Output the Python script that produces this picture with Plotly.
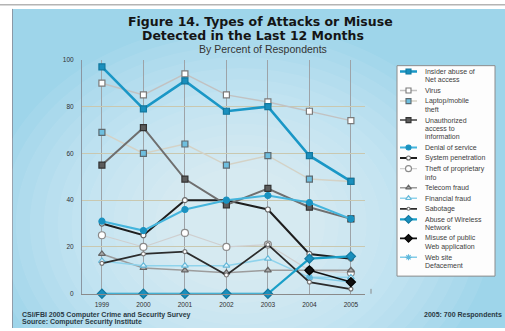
import plotly.graph_objects as go

# ---------------- data ----------------
years = [1999, 2000, 2001, 2002, 2003, 2004, 2005]
insider_abuse = [97, 79, 91, 78, 80, 59, 48]
virus = [90, 85, 94, 85, 82, 78, 74]
laptop_theft = [69, 60, 64, 55, 59, 49, 48]
unauthorized_access = [55, 71, 49, 38, 45, 37, 32]
denial_of_service = [31, 27, 36, 40, 42, 39, 32]
system_penetration = [30, 25, 40, 40, 36, 17, 15]
theft_proprietary = [25, 20, 26, 20, 21, 10, 9]
telecom_fraud = [17, 11, 10, 9, 10, 10, 10]
financial_fraud = [14, 12, 12, 12, 15, 7, 7]
sabotage = [13, 17, 18, 8, 21, 5, 2]
wireless_abuse = [0, 0, 0, 0, 0, 15, 16]
web_app_misuse = [None, None, None, None, None, 10, 5]
web_defacement = [None, None, None, None, None, 7, 5]
y_ticks = [0, 20, 40, 60, 80, 100]
x_ticks = years

W, H = 505, 331
def px(x):
    return x / W
def py(y):
    return 1 - y / H

# series: legend lines, values, style
series = [
    dict(lines=["Insider abuse of", "Net access"], v=insider_abuse, lc="#1a97c6", lw=2.6,
         sym="square", mf="#1a8fbd", ml="#12789f", ms=6, z=13),
    dict(lines=["Virus"], v=virus, lc="#c2c2c2", lw=1.5,
         sym="square", mf="#ffffff", ml="#7a7a7a", ms=6, z=2),
    dict(lines=["Laptop/mobile", "theft"], v=laptop_theft, lc="#d4d2c6", lw=1.5,
         sym="square", mf="#6ebfdf", ml="#5d6a70", ms=6, z=3),
    dict(lines=["Unauthorized", "access to", "information"], v=unauthorized_access, lc="#6f6f6f", lw=2.0,
         sym="square", mf="#5c5c5c", ml="#333333", ms=6, z=10),
    dict(lines=["Denial of service"], v=denial_of_service, lc="#44b5dd", lw=2.0,
         sym="circle", mf="#1a92c0", ml="#1a92c0", ms=6, z=11),
    dict(lines=["System penetration"], v=system_penetration, lc="#1e1e1e", lw=2.0,
         sym="circle", mf="#ffffff", ml="#666666", ms=5, z=9),
    dict(lines=["Theft of proprietary", "info"], v=theft_proprietary, lc="#cfcfcf", lw=1.2,
         sym="circle", mf="#ffffff", ml="#8a8a8a", ms=7, z=1),
    dict(lines=["Telecom fraud"], v=telecom_fraud, lc="#9c9c9c", lw=1.5,
         sym="triangle-up", mf="#a9a9a9", ml="#666666", ms=6, z=4),
    dict(lines=["Financial fraud"], v=financial_fraud, lc="#8fd3ec", lw=1.5,
         sym="triangle-up", mf="#dff3fb", ml="#66b8d8", ms=6, z=5),
    dict(lines=["Sabotage"], v=sabotage, lc="#2c2c2c", lw=1.8,
         sym="circle", mf="#ffffff", ml="#777777", ms=4, z=7),
    dict(lines=["Abuse of Wireless", "Network"], v=wireless_abuse, lc="#1a9fc8", lw=2.2,
         sym="diamond", mf="#1a8fbd", ml="#12789f", ms=7, z=12),
    dict(lines=["Misuse of public", "Web application"], v=web_app_misuse, lc="#111111", lw=1.6,
         sym="diamond", mf="#111111", ml="#000000", ms=7, z=8),
    dict(lines=["Web site", "Defacement"], v=web_defacement, lc="#82cce8", lw=1.5,
         sym="asterisk", mf="#82cce8", ml="#5fb8dc", ms=6, z=6),
]

fig = go.Figure()

for s in sorted(series, key=lambda d: d["z"]):
    fig.add_trace(go.Scatter(
        x=years, y=s["v"], mode="lines+markers", name=" ".join(s["lines"]),
        line=dict(color=s["lc"], width=s["lw"]),
        marker=dict(symbol=s["sym"], size=s["ms"], color=s["mf"],
                    line=dict(color=s["ml"], width=1.2 if s["sym"] != "asterisk" else 1.5)),
        cliponaxis=False, showlegend=False, hoverinfo="x+y+name",
        xaxis="x", yaxis="y",
    ))

# ---------------- manual legend (box with keys drawn on a helper axis) ----------------
LEG_X0, LEG_X1, LEG_Y0, LEG_Y1 = 397, 495, 63, 278
row_pitch, row_gap, first_row = 8.6, 2.2, 69
key_x0, key_x1, key_xm, text_x = 400, 417, 408.5, 423

annotations = []
row_y = first_row
for s in series:
    fig.add_trace(go.Scatter(
        x=[key_x0, key_x1], y=[row_y, row_y], mode="lines",
        line=dict(color=s["lc"], width=s["lw"]), showlegend=False, hoverinfo="skip",
        xaxis="x2", yaxis="y2"))
    fig.add_trace(go.Scatter(
        x=[key_xm], y=[row_y], mode="markers",
        marker=dict(symbol=s["sym"], size=s["ms"] - 1, color=s["mf"],
                    line=dict(color=s["ml"], width=1.1)),
        showlegend=False, hoverinfo="skip", cliponaxis=False,
        xaxis="x2", yaxis="y2"))
    for k, t in enumerate(s["lines"]):
        annotations.append(dict(
            text=t, x=px(text_x), y=py(row_y + k * row_pitch), xref="paper", yref="paper",
            xanchor="left", yanchor="middle", showarrow=False,
            font=dict(family="Liberation Sans, Arial, sans-serif", size=7, color="#404040")))
    row_y += len(s["lines"]) * row_pitch + row_gap

# ---------------- titles & footer ----------------
title_font = dict(family="DejaVu Sans, Liberation Sans, sans-serif", size=12.5, color="#151515", weight=900)
annotations += [
    dict(text="<b>Figure 14. Types of Attacks or Misuse</b>", x=px(260), y=py(18),
         xref="paper", yref="paper", xanchor="center", yanchor="middle", showarrow=False, font=title_font),
    dict(text="<b>Detected in the Last 12 Months</b>", x=px(253), y=py(32),
         xref="paper", yref="paper", xanchor="center", yanchor="middle", showarrow=False, font=title_font),
    dict(text="By Percent of Respondents", x=px(263), y=py(45.5),
         xref="paper", yref="paper", xanchor="center", yanchor="middle", showarrow=False,
         font=dict(family="Liberation Sans, Arial, sans-serif", size=10.5, color="#333333")),
    dict(text="<b>CSI/FBI 2005 Computer Crime and Security Survey</b>", x=px(20), y=py(318),
         xref="paper", yref="paper", xanchor="left", yanchor="middle", showarrow=False,
         font=dict(family="Liberation Sans Narrow, Liberation Sans, sans-serif", size=7, color="#2a3a44")),
    dict(text="<b>Source: Computer Security Institute</b>", x=px(20), y=py(325),
         xref="paper", yref="paper", xanchor="left", yanchor="middle", showarrow=False,
         font=dict(family="Liberation Sans Narrow, Liberation Sans, sans-serif", size=7, color="#2a3a44")),
    dict(text="<b>2005: 700 Respondents</b>", x=px(504), y=py(318),
         xref="paper", yref="paper", xanchor="right", yanchor="middle", showarrow=False,
         font=dict(family="Liberation Sans Narrow, Liberation Sans, sans-serif", size=7, color="#2a3a44")),
]

# ---------------- background shapes ----------------
shapes = [
    dict(type="rect", xref="paper", yref="paper", x0=px(13), x1=1, y0=0, y1=py(5),
         fillcolor="#9ed5ea", line=dict(width=0), layer="below"),
    dict(type="line", xref="paper", yref="paper", x0=px(12.5), x1=px(12.5), y0=0, y1=py(5),
         line=dict(color="#8a98a6", width=1), layer="below"),
    dict(type="line", xref="paper", yref="paper", x0=0, x1=1, y0=py(0.7), y1=py(0.7),
         line=dict(color="#b4b4b4", width=1.5), layer="below"),
]
n_glow = 14
for i in range(n_glow):
    f = 1.05 - i * 0.058
    cx, cy, rx, ry = 240, 225, 240 * f, 195 * f
    shapes.append(dict(type="circle", xref="paper", yref="paper",
                       x0=px(cx - rx), x1=px(cx + rx), y0=py(cy + ry), y1=py(cy - ry),
                       fillcolor="rgba(255,255,255,0.065)", line=dict(width=0), layer="below"))
# legend box
shapes.append(dict(type="rect", xref="paper", yref="paper",
                   x0=px(LEG_X0), x1=px(LEG_X1), y0=py(LEG_Y1), y1=py(LEG_Y0),
                   fillcolor="#fdfdfd", line=dict(color="#8c8c8c", width=1), layer="below"))
# small end tick on x axis
shapes.append(dict(type="line", xref="paper", yref="paper", x0=px(371), x1=px(371), y0=py(296), y1=py(291),
                   line=dict(color="#8a8a8a", width=1), layer="below"))

tick_font = dict(family="Liberation Sans, Arial, sans-serif", size=6.5, color="#303030")
fig.update_layout(
    width=W, height=H, margin=dict(l=0, r=0, t=0, b=0),
    paper_bgcolor="#ffffff", plot_bgcolor="rgba(0,0,0,0)",
    showlegend=False,
    xaxis=dict(domain=[px(82), px(365)], range=[1998.52, 2005.34], tickvals=x_ticks,
               ticktext=[str(y) for y in x_ticks], showgrid=True, gridcolor="#9da3a8", gridwidth=1,
               zeroline=False, showline=True, linecolor="#8a8a8a", linewidth=1,
               ticks="", tickfont=tick_font, ticklabelstandoff=4, fixedrange=True),
    yaxis=dict(domain=[py(296), py(57)], range=[0, 100], tickvals=y_ticks,
               ticktext=[str(t) for t in y_ticks], showgrid=True, gridcolor="#c9c8b0", gridwidth=1,
               zeroline=False, showline=True, linecolor="#8a96a2", linewidth=1,
               ticks="", tickfont=tick_font, ticklabelstandoff=6, fixedrange=True),
    xaxis2=dict(domain=[px(LEG_X0), px(LEG_X1)], range=[LEG_X0, LEG_X1], visible=False,
                anchor="y2", fixedrange=True),
    yaxis2=dict(domain=[py(LEG_Y1), py(LEG_Y0)], range=[LEG_Y1, LEG_Y0], visible=False,
                anchor="x2", fixedrange=True),
    shapes=shapes, annotations=annotations,
)
fig.write_html("out.html")
